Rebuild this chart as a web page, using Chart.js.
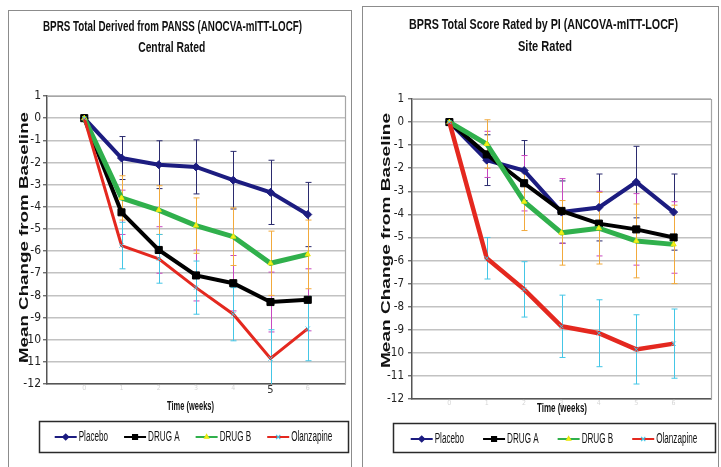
<!DOCTYPE html>
<html><head><meta charset="utf-8">
<script src="https://cdn.jsdelivr.net/npm/chart.js@4.4.1/dist/chart.umd.min.js"></script>
<style>
html,body{margin:0;padding:0;background:#fff;width:721px;height:467px;overflow:hidden;}
.frame{position:absolute;border:1px solid #8c8c8c;box-sizing:border-box;}
canvas{position:absolute;}
</style></head><body>
<div class="frame" style="left:8px;top:10px;width:344px;height:470px"></div>
<div class="frame" style="left:362px;top:6px;width:357px;height:470px"></div>
<canvas id="c1" style="left:9px;top:11px;width:342px;height:456px" width="342" height="456"></canvas>
<canvas id="c2" style="left:363px;top:7px;width:354px;height:460px" width="354" height="460"></canvas>
<script>
// ---------- data ----------
const weeks = [0, 1, 2, 3, 4, 5, 6];
const weekTickLabels = ['0', '1', '2', '3', '4', '5', '6'];
const seriesNames = ['Placebo', 'DRUG A', 'DRUG B', 'Olanzapine'];
const yMin = -12, yMax = 1;

const centralTitle1 = 'BPRS Total Derived from PANSS (ANOCVA-mITT-LOCF)';
const centralTitle2 = 'Central Rated';
const siteTitle1 = 'BPRS Total Score Rated by PI (ANCOVA-mITT-LOCF)';
const siteTitle2 = 'Site Rated';
const yAxisTitle = 'Mean Change from Baseline';
const xAxisTitle = 'Time (weeks)';

const centralPlacebo    = [0, -1.8, -2.1, -2.2, -2.8, -3.35, -4.35];
const centralDrugA      = [0, -4.25, -5.95, -7.1, -7.45, -8.3, -8.2];
const centralDrugB      = [0, -3.6, -4.15, -4.85, -5.35, -6.55, -6.15];
const centralOlanzapine = [0, -5.75, -6.35, -7.65, -8.85, -10.85, -9.5];
const centralPlaceboErr    = [0, 0.97, 1.08, 1.22, 1.3, 1.45, 1.45];
const centralDrugAErr      = [0, 1.0, 1.05, 1.15, 1.25, 1.35, 1.4];
const centralDrugBErr      = [0, 1.0, 1.1, 1.25, 1.3, 1.45, 1.55];
const centralOlanzapineErr = [0, 1.05, 1.1, 1.2, 1.2, 1.3, 1.45];

const sitePlacebo    = [0, -1.65, -2.1, -3.9, -3.7, -2.6, -3.9];
const siteDrugA      = [0, -1.4, -2.65, -3.85, -4.4, -4.65, -5.0];
const siteDrugB      = [0, -0.95, -3.45, -4.8, -4.6, -5.15, -5.3];
const siteOlanzapine = [0, -5.9, -7.25, -8.85, -9.15, -9.85, -9.6];
const sitePlaceboErr    = [0, 1.1, 1.3, 1.35, 1.45, 1.55, 1.65];
const siteDrugAErr      = [0, 1.0, 1.2, 1.4, 1.4, 1.55, 1.55];
const siteDrugBErr      = [0, 1.05, 1.25, 1.4, 1.55, 1.6, 1.7];
const siteOlanzapineErr = [0, 0.9, 1.2, 1.35, 1.45, 1.5, 1.5];

// ---------- styles ----------
const NARROW = '"Liberation Sans Narrow", "DejaVu Sans Condensed", "Arial Narrow", sans-serif';
const SANS = '"Liberation Sans", Arial, sans-serif';
const styles = [
  {color: '#1c1c80', err: '#2b2b6e', point: 'rectRot', r: 4, fill: '#1c1c80', border: '#1c1c80', lr: 3},
  {color: '#000000', err: '#c848c0', point: 'rect', r: 5, fill: '#000000', border: '#000000', lr: 3.5},
  {color: '#30b04c', err: '#f2aa3c', point: 'triangle', r: 3, fill: '#f4f41c', border: '#e6e610', lr: 2.5},
  {color: '#e4281f', err: '#44c6e6', point: 'crossRot', r: 3, fill: '#44c6e6', border: '#44c6e6', lr: 3}
];

function squeezeText(ctx, text, cx, cy, font, width, rot, thick) {
  ctx.save();
  ctx.font = font;
  const w = ctx.measureText(text).width;
  ctx.translate(cx, cy);
  if (rot) ctx.rotate(rot);
  ctx.scale(width / w, thick || 1);
  ctx.textAlign = 'center';
  ctx.textBaseline = 'middle';
  ctx.fillStyle = '#111';
  ctx.fillText(text, 0, 0);
  ctx.restore();
}

function makeDecor(cfg) {
  return {
    id: 'decor' + cfg.id,
    beforeDatasetsDraw(chart) {
      const ctx = chart.ctx, a = chart.chartArea, xs = chart.scales.x, ys = chart.scales.y;
      ctx.save();
      ctx.strokeStyle = '#a6a6a6';
      ctx.lineWidth = 1.2;
      ctx.beginPath();
      ctx.moveTo(a.left, a.top + 0.5);
      ctx.lineTo(a.right + 0.5, a.top + 0.5);
      ctx.lineTo(a.right + 0.5, a.bottom);
      ctx.stroke();
      ctx.beginPath();
      ctx.rect(a.left, a.top - 2, a.right - a.left, a.bottom - a.top + 2);
      ctx.clip();
      ctx.lineWidth = 1;
      chart.data.datasets.forEach(ds => {
        ctx.strokeStyle = ds.errorColor;
        ds.data.forEach((p, j) => {
          const e = ds.errors[j];
          if (!e) return;
          const px = Math.round(xs.getPixelForValue(p.x)) + 0.5;
          const yt = ys.getPixelForValue(p.y + e), yb = ys.getPixelForValue(p.y - e);
          ctx.beginPath();
          ctx.moveTo(px, yt); ctx.lineTo(px, yb);
          ctx.moveTo(px - 3, yt); ctx.lineTo(px + 3, yt);
          ctx.moveTo(px - 3, yb); ctx.lineTo(px + 3, yb);
          ctx.stroke();
        });
      });
      ctx.restore();
    },
    afterDraw(chart) {
      const ctx = chart.ctx;
      cfg.titles.forEach(t => squeezeText(ctx, t.text, t.x, t.y, 'bold ' + t.size + 'px ' + SANS, t.width, 0, 1));
      const yt = cfg.yTitle;
      squeezeText(ctx, yAxisTitle, yt.x, yt.y, 'bold ' + yt.size + 'px ' + SANS, yt.length, -Math.PI / 2, yt.thick);
      const xt = cfg.xTitle;
      squeezeText(ctx, xAxisTitle, xt.x, xt.y, 'bold ' + xt.size + 'px ' + SANS, xt.width, 0, 1);
      // legend
      const L = cfg.legend;
      ctx.save();
      ctx.strokeStyle = '#2a2a2a';
      ctx.lineWidth = 1.5;
      ctx.strokeRect(L.box[0] + 0.5, L.box[1] + 0.5, L.box[2], L.box[3]);
      ctx.font = L.size + 'px ' + SANS;
      const items = chart.data.datasets.map((ds, i) => ({ds, i, tw: ctx.measureText(ds.label).width * L.sx}));
      const total = items.reduce((s, it) => s + L.line + L.textGap + it.tw, 0) + L.gap * (items.length - 1);
      let xx = L.box[0] + L.box[2] / 2 - total / 2;
      items.forEach(it => {
        const st = styles[it.i];
        ctx.strokeStyle = st.color;
        ctx.lineWidth = 2;
        ctx.beginPath();
        ctx.moveTo(xx, L.y); ctx.lineTo(xx + L.line, L.y);
        ctx.stroke();
        ctx.fillStyle = st.fill;
        ctx.strokeStyle = st.border;
        ctx.lineWidth = 1.2;
        Chart.helpers.drawPoint(ctx, {pointStyle: st.point, radius: st.lr, borderWidth: 1.2, rotation: 0}, xx + L.line / 2, L.y);
        ctx.save();
        ctx.translate(xx + L.line + L.textGap, L.y);
        ctx.scale(L.sx, 1);
        ctx.textAlign = 'left';
        ctx.textBaseline = 'middle';
        ctx.fillStyle = '#111';
        ctx.fillText(it.ds.label, 0, 0);
        ctx.restore();
        xx += L.line + L.textGap + it.tw + L.gap;
      });
      ctx.restore();
    }
  };
}

function makeChart(cfg, values, errs) {
  const datasets = values.map((vals, i) => ({
    label: seriesNames[i],
    data: weeks.map((w, j) => ({x: w, y: vals[j]})),
    errors: errs[i],
    errorColor: styles[i].err,
    borderColor: styles[i].color,
    backgroundColor: styles[i].color,
    borderWidth: cfg.lineWidths[i],
    pointStyle: styles[i].point,
    pointRadius: styles[i].r,
    pointBackgroundColor: styles[i].fill,
    pointBorderColor: styles[i].border,
    pointBorderWidth: 1,
    tension: 0,
    fill: false,
    order: 4 - i
  }));
  return new Chart(document.getElementById(cfg.id), {
    type: 'line',
    data: {datasets},
    options: {
      responsive: false,
      animation: false,
      events: [],
      layout: {padding: cfg.padding},
      plugins: {legend: {display: false}, tooltip: {enabled: false}, title: {display: false}},
      scales: {
        x: {
          type: 'linear', min: -1, max: 7,
          grid: {display: false, drawTicks: false},
          border: {display: true, color: '#555', width: 1.5},
          ticks: {
            stepSize: 1, autoSkip: false, maxRotation: 0, padding: 0,
            callback: (v) => { const k = weeks.indexOf(v); return k < 0 ? '' : weekTickLabels[k]; },
            color: (c) => (c.tick && c.tick.value === cfg.shownWeek) ? '#333' : '#d6d6d6',
            font: (c) => ({family: NARROW, size: (c.tick && c.tick.value === cfg.shownWeek) ? 11 : 7})
          },
          afterFit: (s) => { s.height = 20; }
        },
        y: {
          min: yMin, max: yMax,
          ticks: {stepSize: 1, color: '#222', padding: cfg.tickPad, font: {family: NARROW, size: cfg.tickSize}},
          grid: {color: '#c2c2c2', lineWidth: 1.5, tickLength: 4, tickColor: '#555', tickWidth: 1.2},
          border: {color: '#555', width: 1.5},
          afterFit: (s) => { s.width = cfg.yWidth; }
        }
      }
    },
    plugins: [makeDecor(cfg)]
  });
}

makeChart({
  id: 'c1',
  padding: {top: 85, bottom: 63, left: 0, right: 6},
  yWidth: 38, tickPad: 2, tickSize: 12, shownWeek: 5,
  lineWidths: [4, 4, 5, 3],
  titles: [
    {text: centralTitle1, x: 163.5, y: 15.5, size: 15, width: 259},
    {text: centralTitle2, x: 162.7, y: 36.5, size: 15, width: 67}
  ],
  yTitle: {x: 15.5, y: 226.5, size: 18.5, length: 251, thick: 0.72},
  xTitle: {x: 181.5, y: 396, size: 12, width: 47},
  legend: {box: [30, 410, 309, 31], y: 426, size: 14, sx: 0.58, gap: 16, line: 22, textGap: 2}
}, [centralPlacebo, centralDrugA, centralDrugB, centralOlanzapine],
   [centralPlaceboErr, centralDrugAErr, centralDrugBErr, centralOlanzapineErr]);

makeChart({
  id: 'c2',
  padding: {top: 92, bottom: 48, left: 0, right: 5},
  yWidth: 49, tickPad: 4, tickSize: 11.5, shownWeek: null,
  lineWidths: [4, 4, 5, 4.5],
  titles: [
    {text: siteTitle1, x: 180.5, y: 18, size: 15, width: 269},
    {text: siteTitle2, x: 182, y: 39.5, size: 15, width: 54}
  ],
  yTitle: {x: 23, y: 233.5, size: 19, length: 255, thick: 0.72},
  xTitle: {x: 199, y: 401, size: 13, width: 50},
  legend: {box: [30, 416, 322, 29], y: 432, size: 14, sx: 0.58, gap: 19, line: 22, textGap: 2}
}, [sitePlacebo, siteDrugA, siteDrugB, siteOlanzapine],
   [sitePlaceboErr, siteDrugAErr, siteDrugBErr, siteOlanzapineErr]);
</script>
</body></html>
